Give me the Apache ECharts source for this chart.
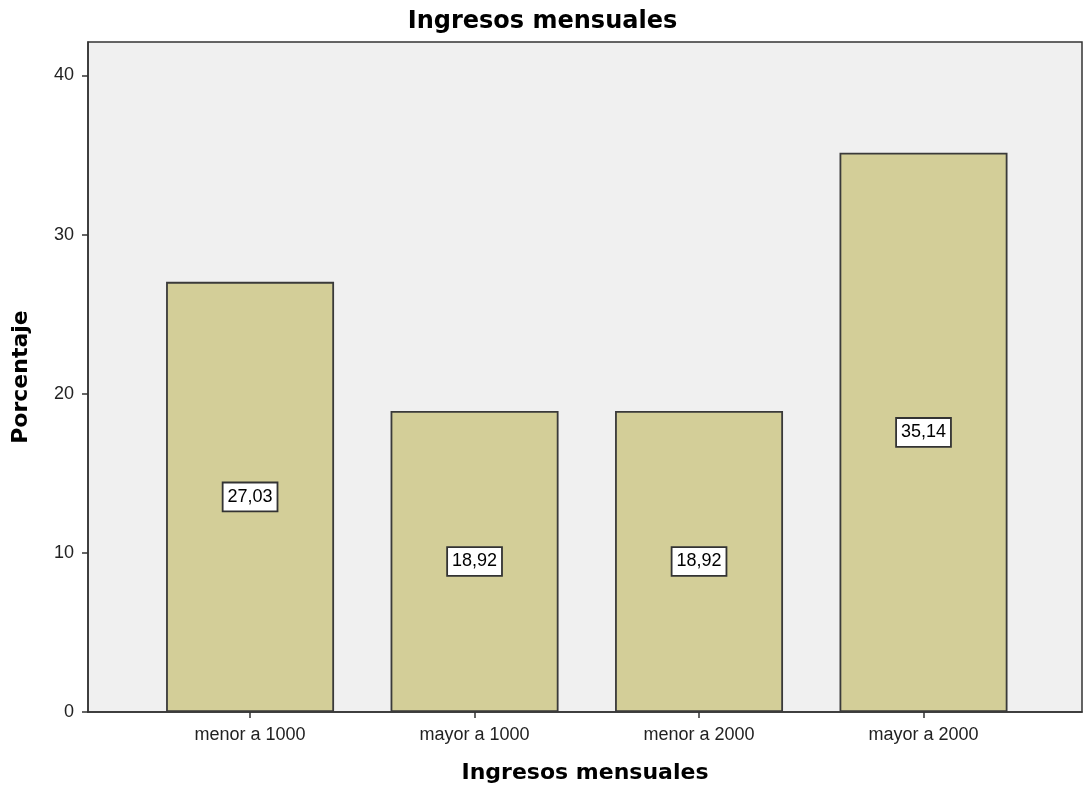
<!DOCTYPE html>
<html>
<head>
<meta charset="utf-8">
<script src="https://cdn.jsdelivr.net/npm/echarts@6/dist/echarts.min.js"></script>
<style>
  html, body { margin: 0; padding: 0; background: #fff; }
  #chart { width: 1085px; height: 790px; }
</style>
</head>
<body>
<div id="chart"></div>
<script>
// categorias y porcentajes
const categories = ['menor a 1000', 'mayor a 1000', 'menor a 2000', 'mayor a 2000']
const porcentajes = [27.03, 18.92, 18.92, 35.14]
const yTicks = [0, 10, 20, 30, 40]
const xPositions = [1, 2, 3, 4]

const font = "'Liberation Sans', Arial, sans-serif"
const boldFont = "'DejaVu Sans', Verdana, sans-serif"
const chart = echarts.init(document.getElementById('chart'))

const option = {
  backgroundColor: '#ffffff',
  animation: false,
  title: {
    text: 'Ingresos mensuales',
    left: 'center',
    top: 5,
    textStyle: { fontFamily: boldFont, fontSize: 24, fontWeight: 'bold', color: '#000' },
  },
  grid: {
    left: 88,
    right: 3,
    top: 42,
    bottom: 78,
    show: true,
    backgroundColor: '#f0f0f0',
    borderColor: '#333',
    borderWidth: 1.5,
  },
  xAxis: {
    type: 'value',
    min: 0.278,
    max: 4.706,
    name: 'Ingresos mensuales',
    nameLocation: 'middle',
    nameGap: 50,
    nameTextStyle: { fontFamily: boldFont, fontSize: 22, fontWeight: 'bold', color: '#000' },
    axisLine: { show: true, lineStyle: { color: '#333', width: 1.5 } },
    axisTick: { show: true, customValues: xPositions, length: 6, lineStyle: { color: '#333', width: 1.5 } },
    axisLabel: {
      customValues: xPositions,
      formatter: (v) => categories[Math.round(v) - 1] || '',
      fontFamily: font,
      fontSize: 18,
      color: '#222',
      margin: 14,
    },
    splitLine: { show: false },
  },
  yAxis: {
    type: 'value',
    min: 0,
    max: 42.1,
    name: 'Porcentaje',
    nameLocation: 'middle',
    nameGap: 56,
    nameTextStyle: { fontFamily: boldFont, fontSize: 22, fontWeight: 'bold', color: '#000' },
    axisLine: { show: true, lineStyle: { color: '#333', width: 1.5 } },
    axisTick: { show: true, customValues: yTicks, length: 6, lineStyle: { color: '#333', width: 1.5 } },
    axisLabel: {
      customValues: yTicks,
      fontFamily: font,
      fontSize: 18,
      color: '#222',
      margin: 14,
    },
    splitLine: { show: false },
  },
  series: [
    {
      type: 'bar',
      data: xPositions.map((x, i) => [x, porcentajes[i]]),
      barWidth: 168,
      itemStyle: { color: '#d3ce98', borderColor: '#3a3a3a', borderWidth: 1.8 },
      label: {
        show: true,
        position: 'inside',
        formatter: (p) => p.value[1].toFixed(2).replace('.', ','),
        fontFamily: font,
        fontSize: 18,
        lineHeight: 20,
        color: '#000',
        backgroundColor: '#fff',
        borderColor: '#333',
        borderWidth: 1.8,
        padding: [4, 4, 3, 4],
      },
    },
  ],
}

chart.setOption(option)
</script>
</body>
</html>
